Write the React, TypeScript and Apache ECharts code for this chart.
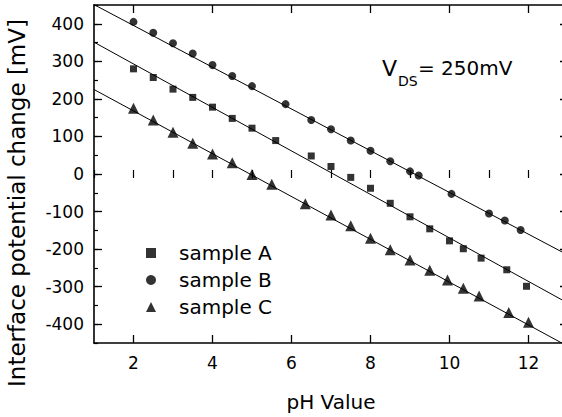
import React, { useEffect, useRef } from "react";
import * as echarts from "echarts";

const FONT = "DejaVu Sans";

// pH values and interface potential change [mV]
const phA = [2, 2.5, 3, 3.5, 4, 4.5, 5, 5.6, 6.5, 7, 7.5, 8, 8.5, 9, 9.5, 10, 10.35, 10.8, 11.45, 11.95];
const valA = [280, 257, 226, 204, 178, 148, 122, 89, 48, 20, -9, -38, -78, -114, -146, -178, -199, -224, -255, -299];

const phB = [2, 2.5, 3, 3.5, 4, 4.5, 5, 5.85, 6.5, 7, 7.5, 8, 8.5, 9, 9.22, 10.05, 11, 11.4, 11.8];
const valB = [405, 376, 348, 321, 290, 261, 234, 186, 144, 119, 89, 62, 34, 7, -4, -53, -105, -124, -149];

const phC = [2, 2.5, 3, 3.5, 4, 4.5, 5, 5.5, 6.35, 7, 7.5, 8, 8.5, 9, 9.5, 9.95, 10.35, 10.75, 11.5, 12];
const valC = [175, 144, 111, 82, 53, 30, -1, -27, -79, -109, -138, -171, -202, -229, -256, -282, -304, -325, -369, -395];

// linear fit lines (end points)
const fitX = [1, 13];
const fitA = [351, -344];
const fitB = [451, -216];
const fitC = [225, -459];

const xMajor = [2, 4, 6, 8, 10, 12];
const yMajor = [-400, -300, -200, -100, 0, 100, 200, 300, 400];

const seriesNames = ["sample A", "sample B", "sample C"];

const zip = (xs: number[], ys: number[]) => xs.map((x, i) => [x, ys[i]]);

export default function App() {
  const ref = useRef<HTMLDivElement>(null);
  useEffect(() => {
    if (!ref.current) return;
    const chart = echarts.init(ref.current, null, { renderer: "svg" });
    const lineCol = "#000";
    const baseAxis = {
      axisLine: { show: false, lineStyle: { color: lineCol, width: 1.6 } },
      splitLine: { show: false },
    };
    const xRange = { type: "value", min: 1, max: 13 };
    const yRange = { type: "value", min: -450, max: 450 };
    const majorX = (pos: string, labels: boolean, extra: any = {}) => ({
      ...xRange,
      ...baseAxis,
      position: pos,
      axisLine: { show: true, onZero: false, lineStyle: { color: lineCol, width: 1.6 } },
      axisTick: { show: true, inside: true, length: 8, customValues: xMajor, lineStyle: { color: lineCol, width: 1.3 } },
      axisLabel: labels
        ? { show: true, customValues: xMajor, fontFamily: FONT, fontSize: 17, color: "#000", margin: 11 }
        : { show: false },
      ...extra,
    });
    const minorX = (pos: string) => ({
      ...xRange,
      ...baseAxis,
      position: pos,
      interval: 1,
      axisTick: { show: true, inside: true, length: 4, lineStyle: { color: lineCol, width: 1.2 } },
      axisLabel: { show: false },
    });
    const majorY = (pos: string, labels: boolean) => ({
      ...yRange,
      ...baseAxis,
      position: pos,
      axisLine: { show: true, onZero: false, lineStyle: { color: lineCol, width: 1.6 } },
      axisTick: { show: true, inside: true, length: 8, customValues: yMajor, lineStyle: { color: lineCol, width: 1.3 } },
      axisLabel: labels
        ? { show: true, customValues: yMajor, fontFamily: FONT, fontSize: 17, color: "#000", margin: 10 }
        : { show: false },
    });
    const minorY = (pos: string) => ({
      ...yRange,
      ...baseAxis,
      position: pos,
      interval: 50,
      axisTick: { show: true, inside: true, length: 4, lineStyle: { color: lineCol, width: 1.2 } },
      axisLabel: { show: false },
    });

    const scatter = (name: string, xs: number[], ys: number[], symbol: string, size: number) => ({
      type: "scatter",
      name,
      xAxisIndex: 0,
      yAxisIndex: 0,
      symbol,
      symbolSize: size,
      itemStyle: { color: "#000" },
      data: zip(xs, ys),
      z: 3,
    });
    const fit = (ys: number[]) => ({
      type: "line",
      xAxisIndex: 0,
      yAxisIndex: 0,
      data: zip(fitX, ys),
      showSymbol: false,
      symbol: "none",
      lineStyle: { color: "#000", width: 1 },
      silent: true,
      z: 2,
    });

    chart.setOption({
      animation: false,
      backgroundColor: "#fff",
      grid: { left: 94, top: 5, width: 474, height: 338, containLabel: false, outerBoundsMode: "none" },
      xAxis: [
        majorX("bottom", true, {
          name: "pH Value",
          nameLocation: "middle",
          nameGap: 49,
          nameTextStyle: { fontFamily: FONT, fontSize: 20, color: "#000" },
        }),
        minorX("bottom"),
        majorX("top", false),
        minorX("top"),
      ],
      yAxis: [majorY("left", true), minorY("left"), majorY("right", false), minorY("right")],
      legend: {
        data: seriesNames,
        orient: "vertical",
        left: 141,
        top: 238,
        itemWidth: 10,
        itemHeight: 10,
        itemGap: 7,
        selectedMode: false,
        textStyle: { fontFamily: FONT, fontSize: 20, color: "#000", padding: [0, 0, 0, 18] },
      },
      graphic: [
        {
          type: "text",
          x: 17,
          y: 203,
          rotation: Math.PI / 2,
          style: {
            text: "Interface potential change [mV]",
            font: `23px "${FONT}"`,
            fill: "#000",
            align: "center",
            verticalAlign: "middle",
          },
        },
        { type: "text", left: 382, top: 57, style: { text: "V", font: `22px "${FONT}"`, fill: "#000" } },
        { type: "text", left: 398, top: 74, style: { text: "DS", font: `14px "${FONT}"`, fill: "#000" } },
        { type: "text", left: 418, top: 58, style: { text: "= 250mV", font: `20px "${FONT}"`, fill: "#000" } },
      ],
      series: [
        fit(fitA),
        fit(fitB),
        fit(fitC),
        scatter(seriesNames[0], phA, valA, "rect", 7),
        scatter(seriesNames[1], phB, valB, "circle", 8),
        scatter(seriesNames[2], phC, valC, "triangle", 11),
      ],
    });
    return () => chart.dispose();
  }, []);
  return (
    <div
      ref={ref}
      style={{ position: "fixed", left: 0, top: 0, width: 562, height: 417, background: "#fff" }}
    />
  );
}
